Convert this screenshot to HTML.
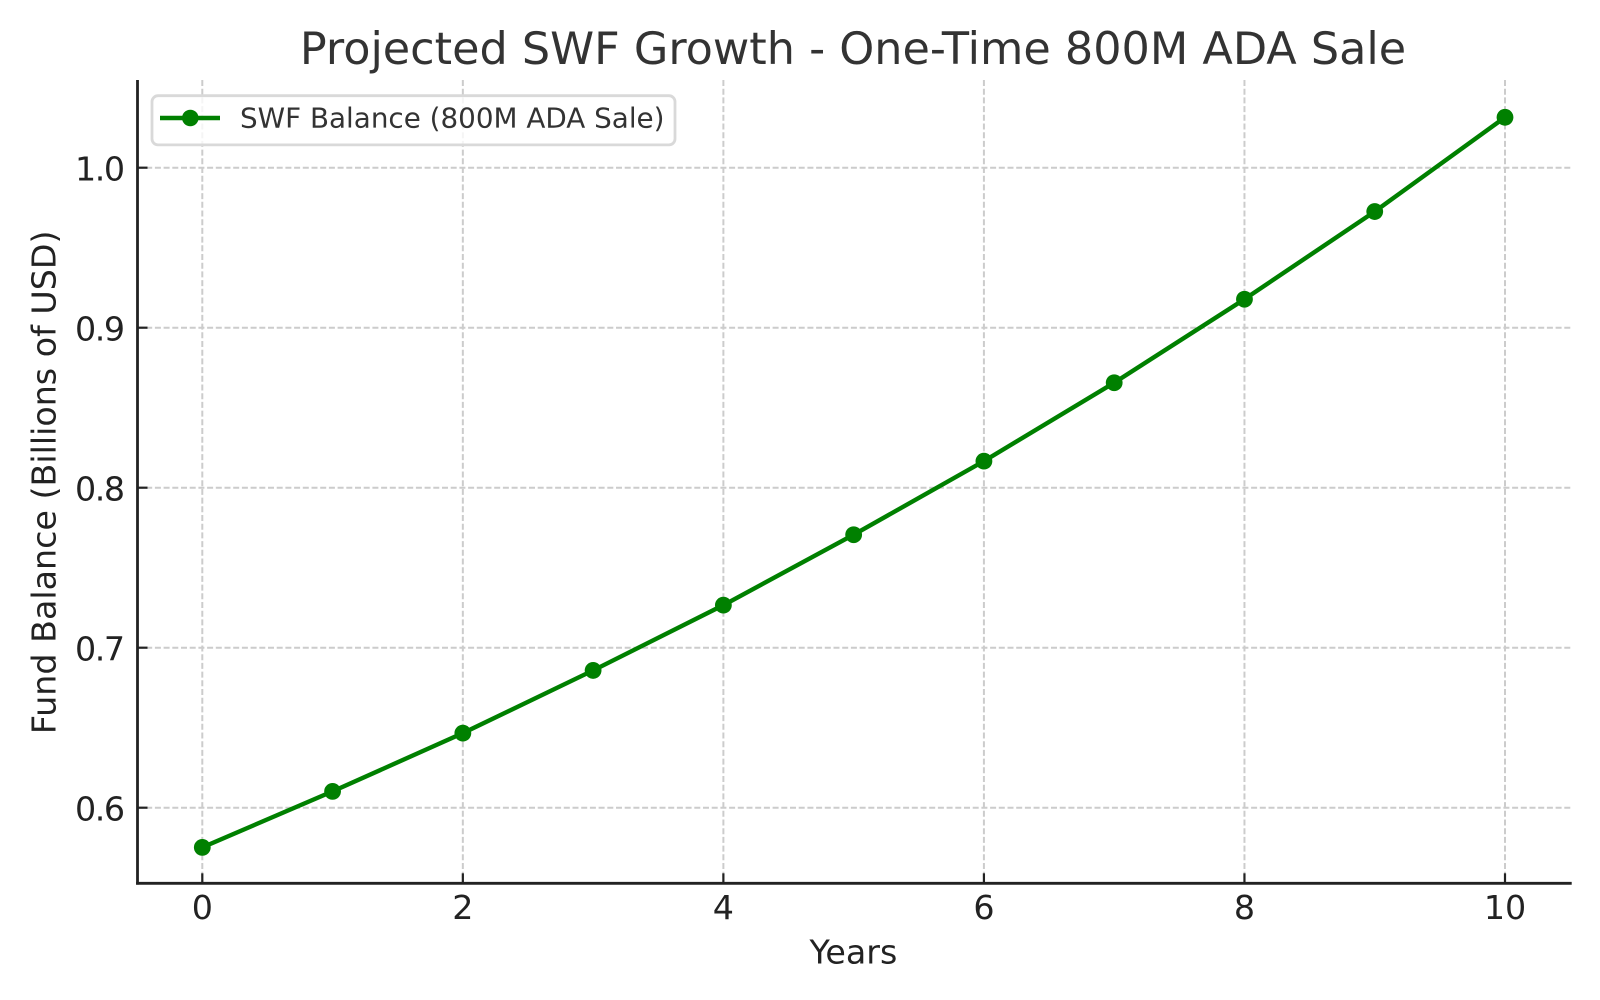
<!DOCTYPE html>
<html lang="en">
<head>
<meta charset="utf-8">
<title>Projected SWF Growth - One-Time 800M ADA Sale</title>
<style>
html,body{margin:0;padding:0;background:#fff;}
svg{display:block;}
text{font-family:"DejaVu Sans","Liberation Sans",sans-serif;}
</style>
</head>
<body>
<svg id="chart" xmlns="http://www.w3.org/2000/svg" width="1600" height="1000" viewBox="0 0 1600 1000">
  <rect x="0" y="0" width="1600" height="1000" fill="#ffffff"/>
  <g id="grid"></g>
  <g id="ticks"></g>
  <g id="labels"></g>
  <line x1="137.5" y1="80" x2="137.5" y2="884.6" stroke="#222222" stroke-width="2.8"/>
  <line x1="136.1" y1="883.3" x2="1571.7" y2="883.3" stroke="#222222" stroke-width="2.8"/>
  <g id="series"></g>
  <g>
    <rect x="152" y="95.7" width="523" height="49.2" rx="6" ry="6" fill="#ffffff" fill-opacity="0.8" stroke="#d9d9d9" stroke-width="2.8"/>
    <line x1="160" y1="118" x2="220" y2="118" stroke="#008000" stroke-width="4.4"/>
    <circle cx="190.3" cy="118" r="8.3" fill="#008000"/>
    <text x="240" y="127.5" font-size="27.8" fill="#333333">SWF Balance (800M ADA Sale)</text>
  </g>
  <text x="853" y="64" font-size="44.5" fill="#333333" text-anchor="middle">Projected SWF Growth - One-Time 800M ADA Sale</text>
  <text x="853.4" y="963.5" font-size="33.3" fill="#222222" text-anchor="middle">Years</text>
  <text transform="translate(55.5 482.3) rotate(-90)" x="0" y="0" font-size="33.3" fill="#222222" text-anchor="middle">Fund Balance (Billions of USD)</text>
</svg>
<script>
var years = [0, 1, 2, 3, 4, 5, 6, 7, 8, 9, 10];
var balances = [0.5752, 0.6102, 0.6466, 0.6858, 0.7266, 0.7706, 0.8166, 0.8656, 0.9178, 0.9726, 1.0315];
var xTickValues = [0, 2, 4, 6, 8, 10];
var yTickValues = [0.6, 0.7, 0.8, 0.9, 1.0];
var yTickLabels = ['0.6', '0.7', '0.8', '0.9', '1.0'];

var NS = 'http://www.w3.org/2000/svg';
var plotLeft = 137.5, plotRight = 1571.7, plotTop = 80, plotBottom = 883.3;
function xScale(v) { return 202.3 + v * 130.27; }
function yScale(v) { return 807.7 - (v - 0.6) * 1600; }
function svgEl(tag, attrs, parent) {
  var e = document.createElementNS(NS, tag);
  for (var k in attrs) { e.setAttribute(k, attrs[k]); }
  parent.appendChild(e);
  return e;
}
var gridG = document.getElementById('grid');
var ticksG = document.getElementById('ticks');
var labelsG = document.getElementById('labels');
var seriesG = document.getElementById('series');
var gridStyle = { stroke: '#cccccc', 'stroke-width': 2, 'stroke-dasharray': '6 2.7' };

xTickValues.forEach(function (v) {
  var x = xScale(v);
  var g = svgEl('line', { x1: x, y1: plotTop, x2: x, y2: plotBottom, stroke: gridStyle.stroke, 'stroke-width': gridStyle['stroke-width'], 'stroke-dasharray': gridStyle['stroke-dasharray'] }, gridG);
  
  
  var t = svgEl('line', { x1: x, y1: plotBottom, x2: x, y2: plotBottom - 10, stroke: '#222222', 'stroke-width': 2.2 }, ticksG);
  
  
  var l = svgEl('text', { x: x, y: 919, 'font-size': 33.3, fill: '#222222', 'text-anchor': 'middle' }, labelsG);
  
  
  l.textContent = String(v);
});

yTickValues.forEach(function (v, i) {
  var y = yScale(v);
  var g = svgEl('line', { x1: plotLeft, y1: y, x2: plotRight, y2: y, stroke: gridStyle.stroke, 'stroke-width': gridStyle['stroke-width'], 'stroke-dasharray': gridStyle['stroke-dasharray'] }, gridG);
  
  
  var t = svgEl('line', { x1: plotLeft, y1: y, x2: plotLeft + 10, y2: y, stroke: '#222222', 'stroke-width': 2.2 }, ticksG);
  
  
  var l = svgEl('text', { x: 123.5, y: y + 13, 'font-size': 33.3, 'letter-spacing': -1.5, fill: '#222222', 'text-anchor': 'end' }, labelsG);
  
  
  l.textContent = yTickLabels[i];
});

var points = years.map(function (yr, i) { return xScale(yr) + ',' + yScale(balances[i]); }).join(' ');
var line = svgEl('polyline', { points: points, fill: 'none', stroke: '#008000', 'stroke-width': 4.4, 'stroke-linejoin': 'round' }, seriesG);


years.forEach(function (yr, i) {
  var c = svgEl('circle', { cx: xScale(yr), cy: yScale(balances[i]), r: 8.4, fill: '#008000' }, seriesG);
  
  
});
</script>
</body>
</html>
